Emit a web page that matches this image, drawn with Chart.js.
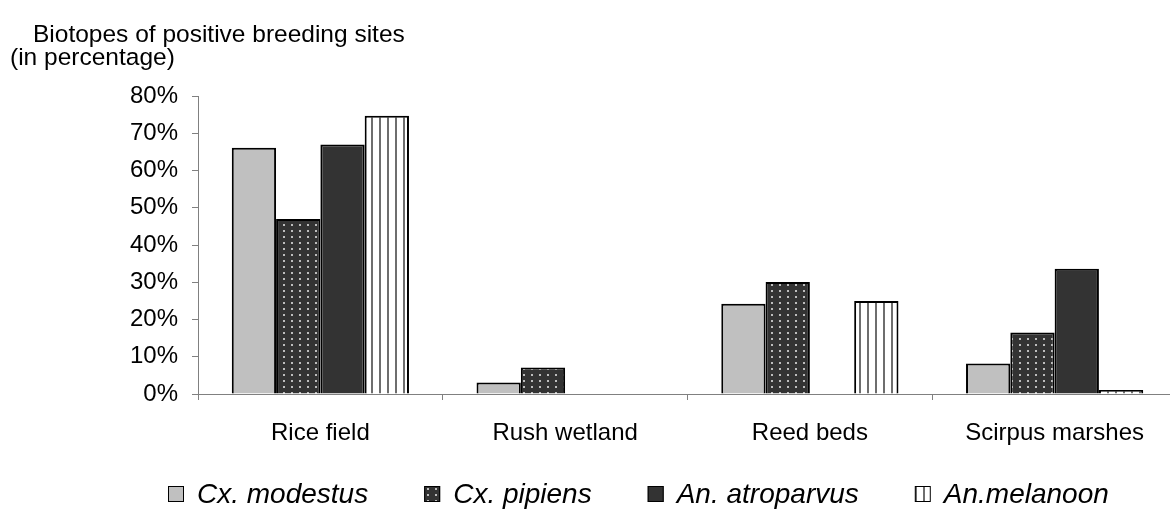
<!DOCTYPE html>
<html>
<head>
<meta charset="utf-8">
<title>Biotopes of positive breeding sites</title>
<script src="https://cdn.jsdelivr.net/npm/chart.js@4.4.1/dist/chart.umd.min.js"></script>
<style>
  html, body { margin: 0; padding: 0; background: #fff; overflow: hidden; }
  #wrap { width: 1180px; height: 515px; }
</style>
</head>
<body>
<div id="wrap"><canvas id="biotopeChart" width="1180" height="515"></canvas></div>
<script>
// Data (percent of positive breeding sites)
const biotopes = ['Rice field', 'Rush wetland', 'Reed beds', 'Scirpus marshes'];
const speciesNames = ['Cx. modestus', 'Cx. pipiens', 'An. atroparvus', 'An.melanoon'];
const cxModestus = [66.1, 3.1, 24.2, 8.2];
const cxPipiens = [47.0, 7.1, 30.1, 16.5];
const anAtroparvus = [67.0, 0, 0, 33.6];
const anMelanoon = [74.7, 0, 25.0, 1.1];
const yTicks = [0, 10, 20, 30, 40, 50, 60, 70, 80];

const FONT = '"Liberation Sans", Arial, Helvetica, sans-serif';

// small offscreen canvas patterns for the hatched fills
function dotPattern() {
  const c = document.createElement('canvas');
  c.width = 8; c.height = 6;
  const x = c.getContext('2d');
  x.fillStyle = '#333333';
  x.fillRect(0, 0, 8, 6);
  x.fillStyle = '#bdbdbd';
  x.fillRect(3, 2, 2, 2);
  return x.createPattern(c, 'repeat');
}
function stripePattern() {
  const c = document.createElement('canvas');
  c.width = 8; c.height = 8;
  const x = c.getContext('2d');
  x.fillStyle = '#ffffff';
  x.fillRect(0, 0, 8, 8);
  x.fillStyle = '#6e6e6e';
  x.fillRect(3, 0, 2, 8);
  return x.createPattern(c, 'repeat');
}

const fills = ['#c0c0c0', dotPattern(), '#333333', stripePattern()];
const seriesValues = [cxModestus, cxPipiens, anAtroparvus, anMelanoon];

// title in the top-left corner
const titlePlugin = {
  id: 'cornerTitle',
  afterDraw(chart) {
    const ctx = chart.ctx;
    ctx.save();
    ctx.fillStyle = '#000';
    ctx.font = '24.5px ' + FONT;
    ctx.textBaseline = 'alphabetic';
    ctx.textAlign = 'left';
    ctx.fillText('Biotopes of positive breeding sites', 33, 42);
    ctx.fillText('(in percentage)', 10, 65);
    ctx.restore();
  }
};

// legend drawn by hand so the spacing can match
const legendPlugin = {
  id: 'bottomLegend',
  afterDraw(chart) {
    const ctx = chart.ctx;
    ctx.save();
    ctx.font = 'italic 28px ' + FONT;
    const box = 16, gapText = 13, gapItem = 56;
    const items = chart.data.datasets.map(ds => ({
      text: ds.label,
      fill: ds.backgroundColor,
      w: ctx.measureText(ds.label).width
    }));
    const total = items.reduce((s, it) => s + box + gapText + it.w, 0) + gapItem * (items.length - 1);
    let x = Math.round(638 - total / 2);
    const base = 503;
    items.forEach(it => {
      ctx.fillStyle = it.fill;
      ctx.fillRect(x, base - 17, box, box);
      ctx.strokeStyle = '#000';
      ctx.lineWidth = 1;
      ctx.strokeRect(x + 0.5, base - 17 + 0.5, box - 1, box - 1);
      ctx.fillStyle = '#000';
      ctx.textBaseline = 'alphabetic';
      ctx.textAlign = 'left';
      ctx.fillText(it.text, x + box + gapText, base);
      x += box + gapText + it.w + gapItem;
    });
    ctx.restore();
  }
};

new Chart(document.getElementById('biotopeChart'), {
  type: 'bar',
  data: {
    labels: biotopes,
    datasets: speciesNames.map((name, i) => ({
      label: name,
      data: seriesValues[i],
      backgroundColor: fills[i],
      borderColor: '#000000',
      borderWidth: 2,
      categoryPercentage: 0.724,
      barPercentage: 1.0
    }))
  },
  options: {
    responsive: false,
    animation: false,
    layout: {
      padding: { left: 40, right: 3, top: 96, bottom: 61 }
    },
    scales: {
      y: {
        min: 0,
        max: 80,
        afterFit: scale => { scale.width = 158; },
        afterBuildTicks: scale => { scale.ticks = yTicks.map(v => ({ value: v })); },
        border: { display: true, color: '#808080', width: 1 },
        grid: { display: true, drawOnChartArea: false, drawTicks: true, tickLength: 6, color: '#808080' },
        ticks: {
          padding: 14,
          color: '#000',
          font: { family: FONT, size: 24 },
          callback: v => v + '%'
        }
      },
      x: {
        afterFit: scale => { scale.height = 60; },
        border: { display: true, color: '#808080', width: 1 },
        grid: { display: true, offset: true, drawOnChartArea: false, drawTicks: true, tickLength: 6, color: '#808080' },
        ticks: {
          padding: 19,
          color: '#000',
          maxRotation: 0,
          font: { family: FONT, size: 24 }
        }
      }
    },
    plugins: {
      legend: { display: false },
      tooltip: { enabled: false },
      title: { display: false }
    }
  },
  plugins: [titlePlugin, legendPlugin]
});
</script>
</body>
</html>
